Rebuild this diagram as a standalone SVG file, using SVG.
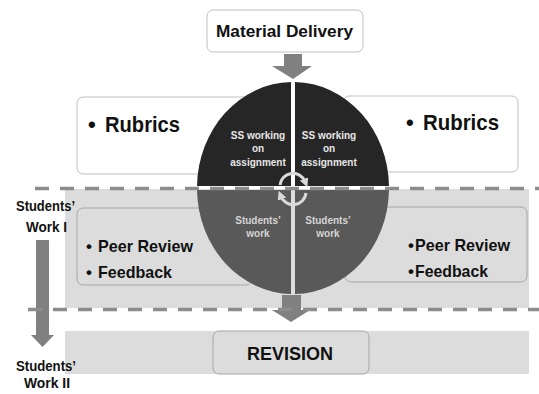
<svg xmlns="http://www.w3.org/2000/svg" width="539" height="394" viewBox="0 0 539 394">
  <defs>
    <style>
      text { font-family: "Liberation Sans", Arial, sans-serif; font-weight: bold; }
      .box-white { fill: #ffffff; stroke: #bfbfbf; stroke-width: 1; }
      .box-grey { fill: #dcdcdc; stroke: #a6a6a6; stroke-width: 1; }
      .band { fill: #dcdcdc; }
      .dash { stroke: #8c8c8c; stroke-width: 3.5; stroke-dasharray: 14 11; fill: none; }
      .arrow { fill: #808080; }
      .lbl { fill: #111111; }
      .q-dark { fill: #262626; }
      .q-mid { fill: #595959; }
      .in-top { fill: #e6e6e6; font-size: 10px; }
      .in-bot { fill: #d4d4d4; font-size: 10px; }
      .cycle { fill: none; stroke: #d9d9d9; stroke-width: 3; }
    </style>
    <marker id="cycleHead" viewBox="0 0 10 10" refX="3" refY="5" markerWidth="3" markerHeight="3" orient="auto" markerUnits="strokeWidth">
      <path d="M0,0 L10,5 L0,10 Z" fill="#d9d9d9"/>
    </marker>
  </defs>

  <!-- background bands -->
  <rect class="band" x="65" y="189" width="464" height="119"/>
  <rect class="band" x="65" y="331" width="464" height="43"/>

  <!-- side boxes -->
  <g id="rubrics-left">
    <rect class="box-white" x="77" y="97" width="175" height="77" rx="6"/>
    <text class="lbl" x="88" y="132" font-size="22">•</text>
    <text class="lbl" x="105" y="132" font-size="22" textLength="75" lengthAdjust="spacingAndGlyphs">Rubrics</text>
  </g>
  <g id="rubrics-right">
    <rect class="box-white" x="343" y="96" width="175" height="76" rx="6"/>
    <text class="lbl" x="406" y="130" font-size="22">•</text>
    <text class="lbl" x="423" y="130" font-size="22" textLength="76" lengthAdjust="spacingAndGlyphs">Rubrics</text>
  </g>
  <g id="review-left">
    <rect class="box-grey" x="77" y="208" width="175" height="77" rx="6"/>
    <text class="lbl" x="86" y="252" font-size="17">•</text>
    <text class="lbl" x="98" y="252" font-size="17" textLength="95" lengthAdjust="spacingAndGlyphs">Peer Review</text>
    <text class="lbl" x="86" y="278" font-size="17">•</text>
    <text class="lbl" x="98" y="278" font-size="17" textLength="74" lengthAdjust="spacingAndGlyphs">Feedback</text>
  </g>
  <g id="review-right">
    <rect class="box-grey" x="345" y="207" width="182" height="75" rx="6"/>
    <text class="lbl" x="408" y="251" font-size="17">•</text>
    <text class="lbl" x="415" y="251" font-size="17" textLength="95" lengthAdjust="spacingAndGlyphs">Peer Review</text>
    <text class="lbl" x="408" y="277" font-size="17">•</text>
    <text class="lbl" x="415" y="277" font-size="17" textLength="73" lengthAdjust="spacingAndGlyphs">Feedback</text>
  </g>

  <!-- material delivery -->
  <g id="material-delivery">
    <rect class="box-white" x="207" y="10" width="156" height="42" rx="6"/>
    <text class="lbl" x="216" y="37" font-size="16.5" textLength="137" lengthAdjust="spacingAndGlyphs">Material Delivery</text>
  </g>

  <!-- revision -->
  <g id="revision">
    <rect class="box-grey" x="213" y="331" width="156" height="43" rx="6"/>
    <text class="lbl" x="247" y="360" font-size="19" textLength="86" lengthAdjust="spacingAndGlyphs">REVISION</text>
  </g>

  <!-- central split ellipse -->
  <g id="work-cycle">
    <path class="q-dark" d="M291,186 L291,82 A96,106 0 0 0 197,186 Z"/>
    <path class="q-dark" d="M295,186 L295,82 A96,106 0 0 1 389,186 Z"/>
    <path class="q-mid" d="M291,190 L197,190 A96,106 0 0 0 291,294 Z"/>
    <path class="q-mid" d="M295,190 L295,294 A96,106 0 0 0 389,190 Z"/>
    <text class="in-top" text-anchor="middle"><tspan x="258" y="139">SS working</tspan><tspan x="258" y="152">on</tspan><tspan x="258" y="166">assignment</tspan></text>
    <text class="in-top" text-anchor="middle"><tspan x="329" y="139">SS working</tspan><tspan x="329" y="152">on</tspan><tspan x="329" y="166">assignment</tspan></text>
    <text class="in-bot" text-anchor="middle"><tspan x="258" y="224">Students’</tspan><tspan x="258" y="237">work</tspan></text>
    <text class="in-bot" text-anchor="middle"><tspan x="328" y="224">Students’</tspan><tspan x="328" y="237">work</tspan></text>
    <!-- rotation arcs straddling the centre -->
    <path class="cycle" d="M280,185 A13,13 0 0 1 305,181.5" marker-end="url(#cycleHead)"/>
    <path class="cycle" d="M306,193 A13,13 0 0 1 281,196.5" marker-end="url(#cycleHead)"/>
  </g>

  <!-- stage labels -->
  <g id="stage-1">
    <text class="lbl" x="16" y="211" font-size="14" textLength="59" lengthAdjust="spacingAndGlyphs">Students’</text>
    <text class="lbl" x="26" y="232" font-size="14" textLength="41" lengthAdjust="spacingAndGlyphs">Work I</text>
  </g>
  <g id="stage-2">
    <text class="lbl" x="16" y="371" font-size="14" textLength="60" lengthAdjust="spacingAndGlyphs">Students’</text>
    <text class="lbl" x="24" y="388" font-size="14" textLength="46" lengthAdjust="spacingAndGlyphs">Work II</text>
  </g>

  <!-- connectors -->
  <g id="connectors">
    <path class="arrow" d="M284,54 H302 V66 H312 L293,79 L272,66 H284 Z"/>
    <path class="arrow" d="M282,295 H301 V310 H310 L291,322 L272,310 H282 Z"/>
    <path class="arrow" d="M36,240 H49 V335 H54 L42.5,347 L31,335 H36 Z"/>
    <line class="dash" x1="35" y1="188.5" x2="539" y2="188.5"/>
    <line class="dash" x1="28" y1="309.5" x2="539" y2="309.5"/>
  </g>
</svg>
